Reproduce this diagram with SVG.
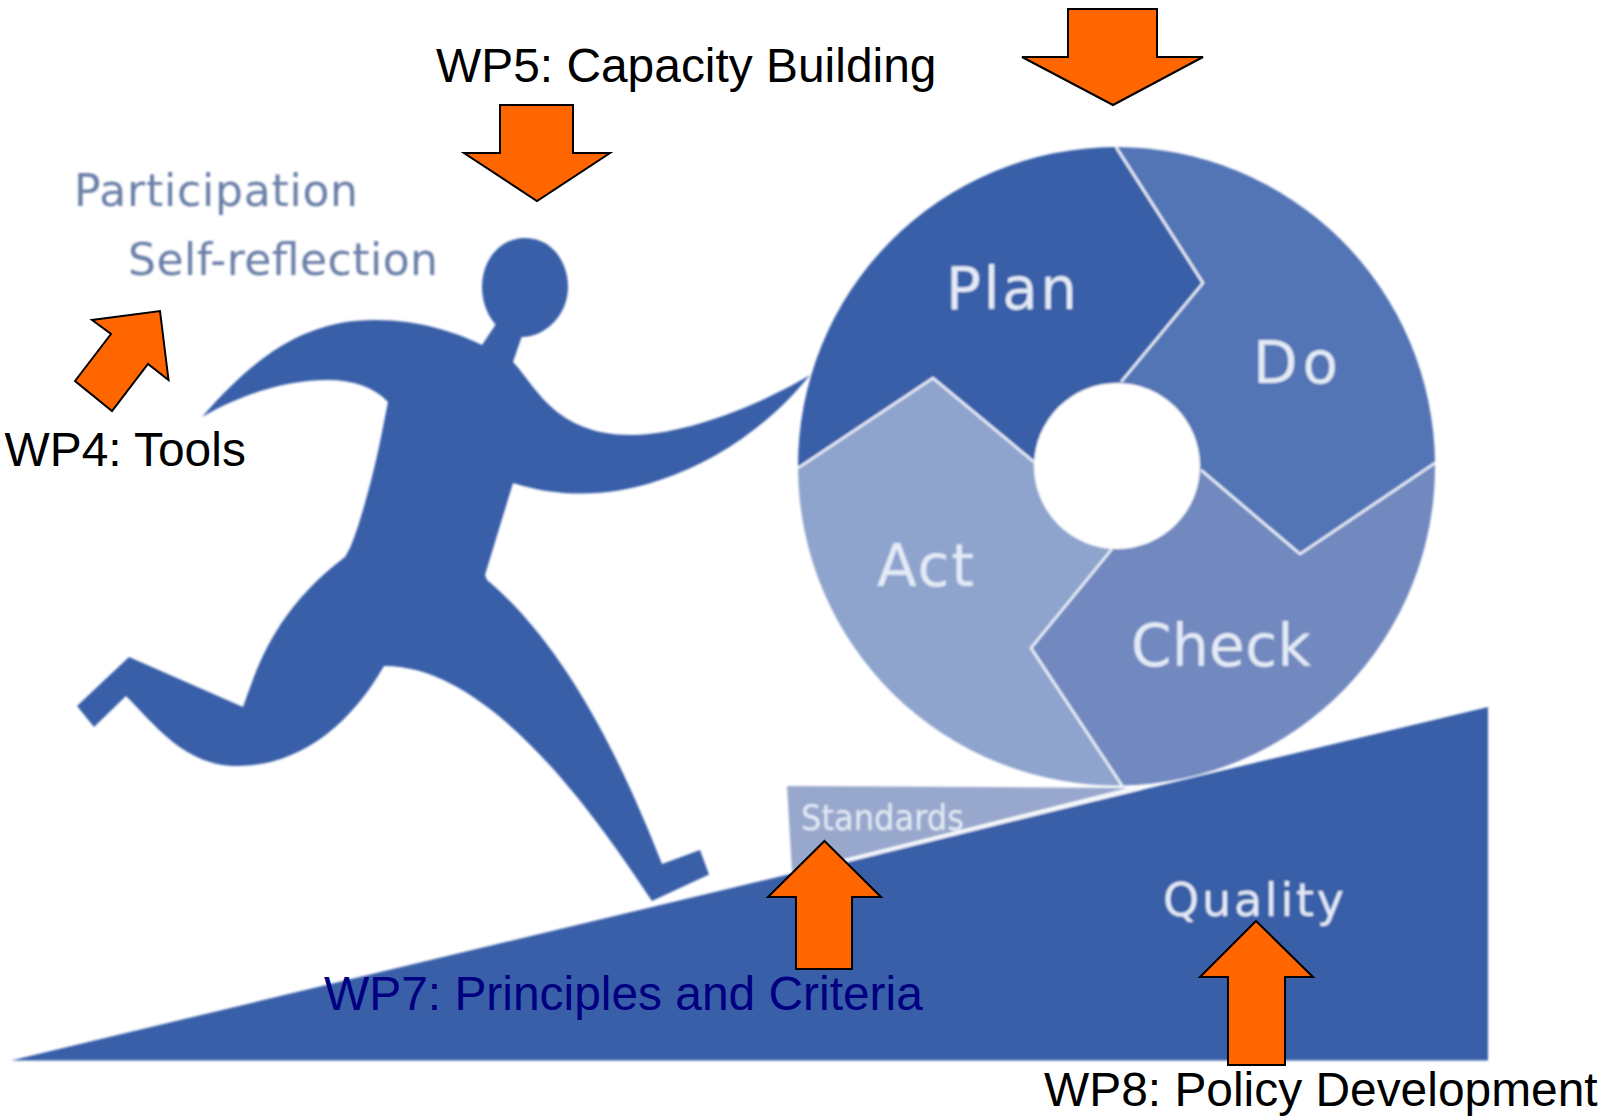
<svg xmlns="http://www.w3.org/2000/svg" width="1616" height="1118" viewBox="0 0 1616 1118">
<style>
.wp{font-family:"Liberation Sans",Arial,sans-serif;font-size:47.9px;fill:#000}
.img{font-family:"DejaVu Sans",Verdana,sans-serif;fill:#e4ebf6}
.soft{font-family:"DejaVu Sans",Verdana,sans-serif;font-size:44px;fill:#6b7fa8}
.arrow{fill:#ff6600;stroke:#000;stroke-width:2;stroke-linejoin:miter}
.edge{stroke:#eef3fb;stroke-width:2.500;stroke-linejoin:miter;fill:none}
.blue{fill:#385fa8}
</style>
<defs><filter id="soft" x="-5%" y="-5%" width="110%" height="110%"><feGaussianBlur stdDeviation="0.9"/></filter></defs>
<rect width="1616" height="1118" fill="#fff"/>
<g id="picture" filter="url(#soft)">
<g id="ramp">
<path class="blue" d="M11,1060.500L1488,707V1060.500Z"/>
<path d="M787,786L1128,788L792,872Z" fill="#98a8cc"/>
<path d="M792,874L1140,788" stroke="#f4f7fc" stroke-width="3.500" fill="none"/>
<text class="img" x="801" y="830" font-size="36" textLength="163" lengthAdjust="spacingAndGlyphs">Standards</text>
<text class="img" x="1163" y="916" font-size="46" textLength="181">Quality</text>
</g>
<g id="wheel">
<path id="plan" fill="#385fa8" d="M798,468A319,319 0 0 1 1116,147L1203,283L1121,382L1117,466L1034,462L933,378Z"/>
<path id="do" fill="#5375b5" d="M1116,147A319,319 0 0 1 1435,463L1300,554L1201,470L1117,466L1121,382L1203,283Z"/>
<path id="check" fill="#7289c0" d="M1435,463A319,319 0 0 1 1122,785.500L1031,648L1112,549L1117,466L1201,470L1300,554Z"/>
<path id="act" fill="#8fa4cd" d="M1122,785.500A319,319 0 0 1 798,468L933,378L1034,462L1117,466L1112,549L1031,648Z"/>
<path class="edge" d="M798,468L933,378L1034,462M1116,147L1203,283L1121,382M1201,470L1300,554L1435,463M1112,549L1031,648L1122,785.500"/>
<circle cx="1117" cy="466" r="83" fill="#fff"/>
<text class="img" x="946" y="309" font-size="58" textLength="131">Plan</text>
<text class="img" x="1253" y="383" font-size="58" textLength="85">Do</text>
<text class="img" x="877" y="586" font-size="58" textLength="97">Act</text>
<text class="img" x="1131" y="666" font-size="58" textLength="180">Check</text>
</g>
<g id="figure" class="blue">
<path d="M525,238C552,238 568,262 568,287C568,315 545,337 522,337C498,337 482,312 482,287C482,260 500,238 525,238Z"/>
<path d="M202,417C260,350 310,320 375,320C420,320 455,332 482,345L498,321L524,330L513,362C535,385 555,436 633,435C690,434 765,402 810,375C770,425 715,462 660,480C610,497 560,498 513,483L485,575L487,580C570,650 625,770 662,864L700,850L709,874.500L652,901C595,815 490,665 384,666C350,725 300,766 237,766C185,766 155,725 126,696L94,727L77,706L129,657L243,707C258,665 275,610 345,557L350,548C360,525 375,470 383,427L388,402C375,388 355,380 327,380C285,380 240,395 202,417Z"/>
</g>
<g id="values">
<text class="soft" x="74" y="206" textLength="284">Participation</text>
<text class="soft" x="128" y="275" textLength="310">Self-reflection</text>
</g>
</g>
<g id="connectors">
<path id="arrow-wp4" class="arrow" d="M160,311L168.500,380L148,364L112,411L75,381L111,334L92,320Z"/>
<path id="arrow-wp5" class="arrow" d="M500,105H573V153H610L537,201L464,153H500Z"/>
<path id="arrow-top" class="arrow" d="M1068,9H1157V57H1203L1113,105L1022,57H1068Z"/>
<path id="arrow-wp7" class="arrow" d="M824.500,841L881,897H852V969H796V897H768Z"/>
<path id="arrow-wp8" class="arrow" d="M1256,921L1313,977H1285V1065H1228V977H1200Z"/>
</g>
<g id="wp4"><text class="wp" x="4.500" y="466">WP4: Tools</text></g>
<g id="wp5"><text class="wp" x="436" y="82">WP5: Capacity Building</text></g>
<g id="wp7"><text class="wp" x="324" y="1010" style="fill:#000080">WP7: Principles and Criteria</text></g>
<g id="wp8"><text class="wp" x="1044" y="1106">WP8: Policy Development</text></g>
</svg>
